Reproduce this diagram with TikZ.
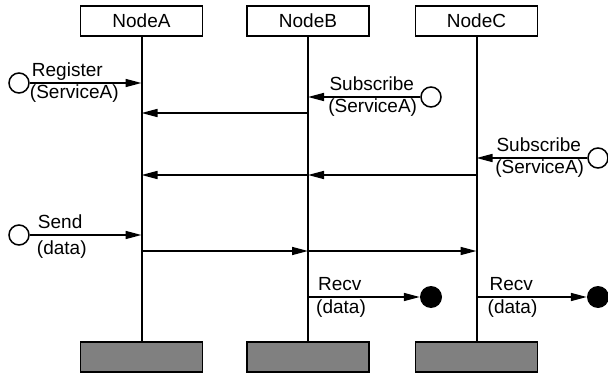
\documentclass[tikz,border=0pt]{standalone}
\usepackage{fontspec}
\setmainfont{Liberation Sans}
\usetikzlibrary{arrows.meta}
\tikzset{
  head/.style={draw,line width=1.6pt,minimum width=122pt,minimum height=30pt,inner sep=0pt},
  foot/.style={head,fill=gray},
  life/.style={line width=2pt},
  msg/.style={line width=1.6pt,-{Triangle[length=16pt,width=8pt]}},
  src/.style={draw,circle,line width=1.5pt,minimum size=20pt,inner sep=0pt},
  sink/.style={circle,fill=black,minimum size=22pt,inner sep=0pt},
  lbl/.style={inner sep=0pt}
}
\begin{document}
\begin{tikzpicture}[x=1pt,y=-1pt,font=\fontsize{19}{21}\selectfont]
  \useasboundingbox (0,0) rectangle (608,377);
  % lifelines
  \node[head] (na) at (141.5,21) {NodeA};
  \node[head] (nb) at (308,21)   {NodeB};
  \node[head] (nc) at (476.5,21) {NodeC};
  \node[foot] (fa) at (141.5,357) {};
  \node[foot] (fb) at (308,357)   {};
  \node[foot] (fc) at (476.5,357) {};
  \draw[life] (na) -- (fa);
  \draw[life] (nb) -- (fb);
  \draw[life] (nc) -- (fc);

  % register / subscribe
  \node[src] (reg) at (19,83) {};
  \draw[msg] (reg) -- (reg -| na);
  \node[lbl,anchor=base west] (reg1) at ([xshift=2pt,yshift=6pt]reg.east) {Register};
  \node[lbl,anchor=base west] (reg2) at ([xshift=0pt,yshift=-16pt]reg.east) {(ServiceA)};

  \node[src] (subb) at (431,97) {};
  \draw[msg] (subb) -- (subb -| nb);
  \node[lbl,anchor=base east] (subb1) at ([xshift=-6pt,yshift=6pt]subb.west) {Subscribe};
  \node[lbl,anchor=base east] (subb2) at ([xshift=-3pt,yshift=-16pt]subb.west) {(ServiceA)};
  \coordinate (m1) at (nb |- 0,113);
  \draw[msg] (m1) -- (m1 -| na);

  \node[src] (subc) at (598,158) {};
  \draw[msg] (subc) -- (subc -| nc);
  \node[lbl,anchor=base east] (subc1) at ([xshift=-6pt,yshift=6pt]subc.west) {Subscribe};
  \node[lbl,anchor=base east] (subc2) at ([xshift=-3pt,yshift=-16pt]subc.west) {(ServiceA)};
  \coordinate (m2) at (nc |- 0,175);
  \draw[msg] (m2) -- (m2 -| nb);
  \draw[msg] (m2 -| nb) -- (m2 -| na);

  % send / recv
  \node[src] (snd) at (19,235) {};
  \draw[msg] (snd) -- (snd -| na);
  \node[lbl,anchor=base west] (snd1) at ([xshift=8pt,yshift=7pt]snd.east) {Send};
  \node[lbl,anchor=base west] (snd2) at ([xshift=7pt,yshift=-19pt]snd.east) {(data)};
  \coordinate (m3) at (na |- 0,251);
  \draw[msg] (m3) -- (m3 -| nb);
  \draw[msg] (m3 -| nb) -- (m3 -| nc);

  \node[sink] (rcvb) at (431,297) {};
  \draw[msg] (rcvb -| nb) -- (rcvb);
  \node[lbl,anchor=base west] (rcvb1) at ([xshift=10pt,yshift=7pt]rcvb -| nb) {Recv};
  \node[lbl,anchor=base west] (rcvb2) at ([xshift=8pt,yshift=-16pt]rcvb -| nb) {(data)};

  \node[sink] (rcvc) at (598,297) {};
  \draw[msg] (rcvc -| nc) -- (rcvc);
  \node[lbl,anchor=base west] (rcvc1) at ([xshift=13pt,yshift=7pt]rcvc -| nc) {Recv};
  \node[lbl,anchor=base west] (rcvc2) at ([xshift=11pt,yshift=-16pt]rcvc -| nc) {(data)};
\end{tikzpicture}
\end{document}
